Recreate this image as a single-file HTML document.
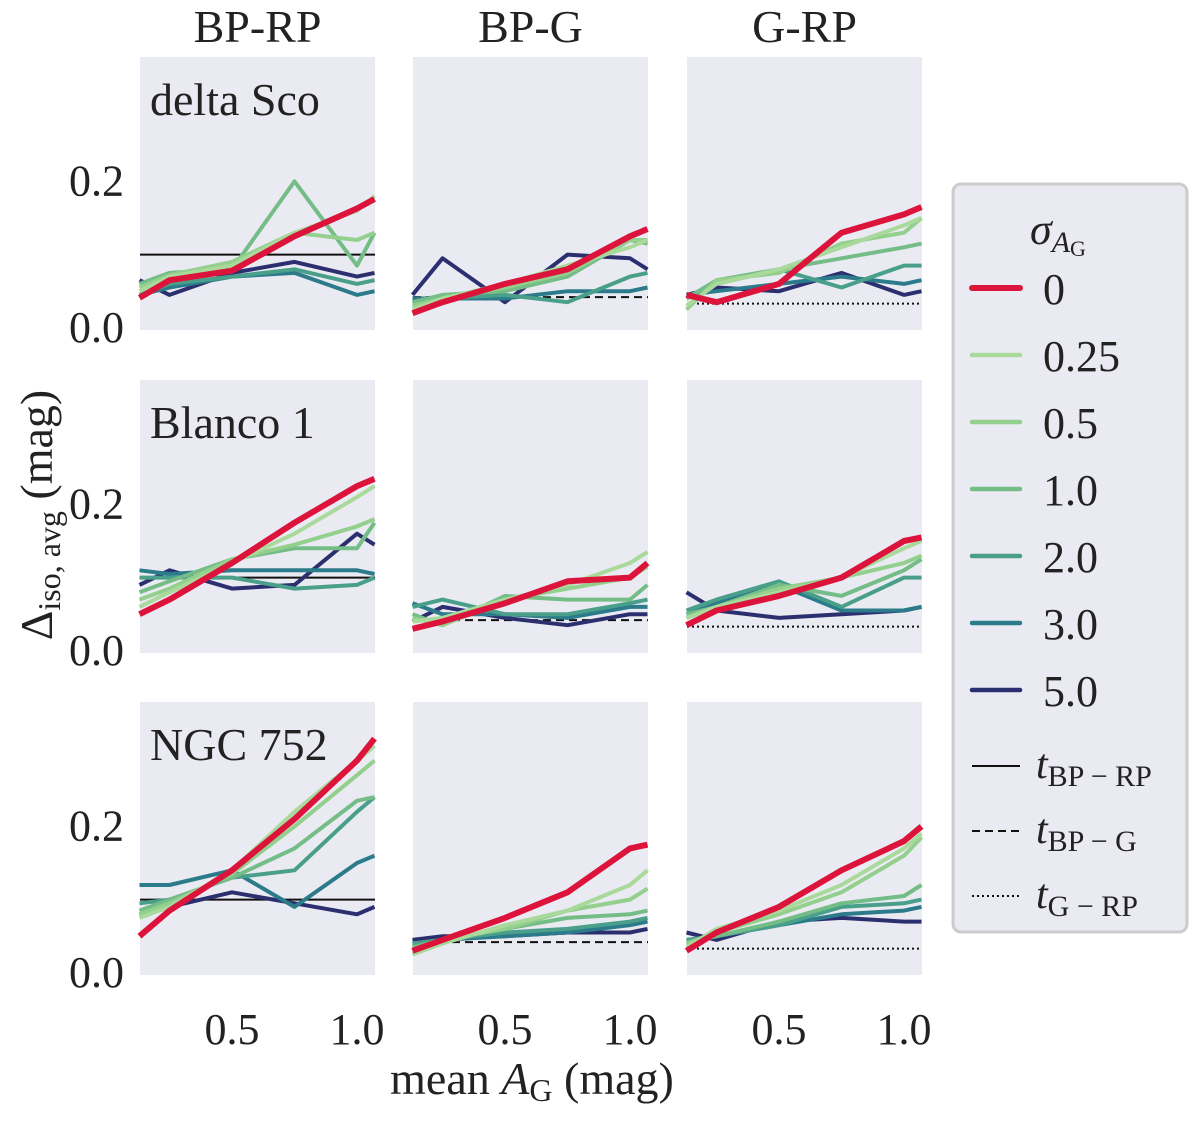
<!DOCTYPE html>
<html><head><meta charset="utf-8"><style>
body{margin:0;background:#fff;}
svg text{font-family:"Liberation Serif",serif;fill:#222;}
</style></head><body>
<svg id="chart" width="1200" height="1118" viewBox="0 0 1200 1118" xmlns="http://www.w3.org/2000/svg"></svg>
<script>
const xs = [0.13, 0.25, 0.5, 0.75, 1.0, 1.07];
const sigmas = ["0","0.25","0.5","1.0","2.0","3.0","5.0"];
const colors = ["#dc143c","#a9d99b","#93cf8d","#74bd87","#4a9f8a","#2c7b8b","#2b2f6f"];
const columns = ["BP-RP","BP-G","G-RP"];
const clusters = ["delta Sco","Blanco 1","NGC 752"];
const thresholds = [0.1, 0.042, 0.033];
const xTicks = [0.5, 1.0];
const yTicks = [0.0, 0.2];
const p00 = [[0.041,0.065,0.078,0.125,0.163,0.176],[0.05,0.07,0.085,0.13,0.16,0.18],[0.055,0.072,0.09,0.13,0.12,0.13],[0.06,0.075,0.08,0.2,0.085,0.13],[0.045,0.06,0.07,0.08,0.06,0.065],[0.045,0.055,0.07,0.075,0.045,0.05],[0.065,0.045,0.075,0.09,0.07,0.075]];
const p01 = [[0.02,0.035,0.06,0.08,0.125,0.135],[0.025,0.04,0.06,0.085,0.11,0.12],[0.03,0.04,0.055,0.075,0.12,0.12],[0.035,0.045,0.05,0.07,0.12,0.115],[0.035,0.04,0.045,0.035,0.07,0.075],[0.04,0.04,0.04,0.05,0.05,0.055],[0.045,0.095,0.035,0.1,0.095,0.08]];
const p02 = [[0.045,0.035,0.06,0.13,0.155,0.165],[0.03,0.06,0.08,0.11,0.14,0.15],[0.025,0.065,0.075,0.115,0.13,0.15],[0.04,0.065,0.08,0.095,0.11,0.115],[0.04,0.06,0.08,0.055,0.085,0.085],[0.045,0.05,0.06,0.07,0.06,0.065],[0.045,0.055,0.05,0.075,0.045,0.05]];
const p10 = [[0.05,0.07,0.12,0.175,0.225,0.235],[0.06,0.08,0.12,0.16,0.21,0.225],[0.07,0.085,0.125,0.145,0.17,0.18],[0.08,0.095,0.125,0.14,0.14,0.175],[0.1,0.1,0.1,0.085,0.09,0.1],[0.11,0.105,0.11,0.11,0.11,0.105],[0.09,0.11,0.085,0.09,0.16,0.145]];
const p11 = [[0.03,0.04,0.065,0.095,0.1,0.12],[0.04,0.045,0.07,0.09,0.12,0.135],[0.045,0.035,0.07,0.085,0.1,0.115],[0.05,0.035,0.075,0.07,0.07,0.09],[0.06,0.07,0.05,0.05,0.065,0.07],[0.065,0.05,0.05,0.045,0.06,0.06],[0.04,0.06,0.045,0.035,0.05,0.05]];
const p12 = [[0.035,0.055,0.075,0.1,0.15,0.155],[0.045,0.06,0.08,0.1,0.14,0.15],[0.045,0.06,0.085,0.1,0.12,0.13],[0.05,0.06,0.09,0.075,0.11,0.125],[0.055,0.07,0.095,0.06,0.1,0.1],[0.05,0.065,0.09,0.055,0.055,0.06],[0.08,0.055,0.045,0.05,0.055,0.06]];
const p20 = [[0.05,0.085,0.14,0.21,0.29,0.32],[0.075,0.09,0.14,0.22,0.29,0.31],[0.08,0.095,0.135,0.2,0.27,0.29],[0.085,0.1,0.13,0.17,0.235,0.24],[0.095,0.1,0.13,0.14,0.22,0.24],[0.12,0.12,0.14,0.09,0.15,0.16],[0.08,0.09,0.11,0.095,0.08,0.09]];
const p21 = [[0.03,0.045,0.075,0.11,0.17,0.175],[0.025,0.04,0.065,0.085,0.12,0.14],[0.03,0.045,0.06,0.085,0.1,0.115],[0.035,0.045,0.06,0.075,0.08,0.085],[0.04,0.045,0.055,0.06,0.07,0.075],[0.04,0.045,0.05,0.055,0.065,0.07],[0.045,0.05,0.05,0.055,0.055,0.06]];
const p22 = [[0.03,0.055,0.09,0.14,0.18,0.2],[0.035,0.06,0.085,0.12,0.17,0.19],[0.04,0.055,0.08,0.11,0.16,0.185],[0.04,0.05,0.07,0.095,0.105,0.12],[0.045,0.05,0.065,0.09,0.095,0.1],[0.04,0.05,0.065,0.08,0.085,0.09],[0.055,0.045,0.07,0.075,0.07,0.07]];
const panels = [[p00,p01,p02],[p10,p11,p12],[p20,p21,p22]];

const NS="http://www.w3.org/2000/svg";
const svg=document.getElementById('chart');
function mk(tag,attrs,parent){const e=document.createElementNS(NS,tag);for(const k in attrs)e.setAttribute(k,attrs[k]);(parent||svg).appendChild(e);return e;}
const colX=[140,413,687], rowY=[57,380,702], PW=235, PH=273;
const xmin=0.132, xmax=1.072, ymin=-0.003, ymax=0.37;
const sx=(c,v)=>colX[c]+(v-xmin)/(xmax-xmin)*PW;
const sy=(r,v)=>rowY[r]+PH-(v-ymin)/(ymax-ymin)*PH;
const dashes=["none","8,5","2,3"];

for(let c=0;c<3;c++){
  const t=mk('text',{x:colX[c]+PW/2,y:42,'text-anchor':'middle','font-size':46});
  t.textContent=columns[c];
  
  
}
for(let r=0;r<3;r++)for(let c=0;c<3;c++){
  const g=mk('g',{});
  
  
  mk('rect',{x:colX[c],y:rowY[r],width:PW,height:PH,fill:'#eaeaf2'},g);
  const th=mk('line',{x1:colX[c],x2:colX[c]+PW,y1:sy(r,thresholds[c]),y2:sy(r,thresholds[c]),stroke:'#111','stroke-width':2,'stroke-dasharray':dashes[c]},g);
  
  
  const data=panels[r][c];
  for(let s=data.length-1;s>=0;s--){
    const pts=data[s].map((v,i)=>sx(c,xs[i]).toFixed(1)+','+sy(r,v).toFixed(1)).join(' ');
    const pl=mk('polyline',{points:pts,fill:'none',stroke:colors[s],'stroke-width':s==0?6:4,'stroke-linejoin':'round'},g);
    
    
  }
  if(c==0){
    for(const v of yTicks){const t=mk('text',{x:124,y:sy(r,v)+14,'text-anchor':'end','font-size':44});t.textContent=v.toFixed(1);
      }
    const cl=mk('text',{x:150,y:rowY[r]+58,'font-size':46});cl.textContent=clusters[r];
    
  }
  if(r==2){
    for(const v of xTicks){const t=mk('text',{x:sx(c,v),y:1044,'text-anchor':'middle','font-size':44});t.textContent=v.toFixed(1);
      }
  }
}
const xl=mk('text',{x:532,y:1094,'text-anchor':'middle','font-size':46});
xl.innerHTML='mean <tspan font-style="italic">A</tspan><tspan font-size="32" dy="7">G</tspan><tspan dy="-7"> (mag)</tspan>';

const yl=mk('text',{transform:'translate(52,515) rotate(-90)','text-anchor':'middle','font-size':46});
yl.innerHTML='Δ<tspan font-size="32" dy="8">iso, avg</tspan><tspan dy="-8"> (mag)</tspan>';


// legend
const lg=mk('g',{});


mk('rect',{x:953,y:184,width:234,height:748,rx:8,fill:'#eaeaf2',stroke:'#cccccc','stroke-width':3},lg);
const lt=mk('text',{x:1030,y:244,'font-size':44},lg);
lt.innerHTML='<tspan font-style="italic">σ</tspan><tspan font-size="30" dy="8" font-style="italic">A</tspan><tspan font-size="22" dy="4">G</tspan>';
for(let s=0;s<sigmas.length;s++){
  const y=288+s*67;
  const e=mk('g',{},lg);
  
  
  mk('line',{x1:972,x2:1020,y1:y,y2:y,stroke:colors[s],'stroke-width':s==0?6:4.5,'stroke-linecap':'round'},e);
  const t=mk('text',{x:1043,y:y+16,'font-size':44},e);t.textContent=sigmas[s];
}
const tl=['BP − RP','BP − G','G − RP'];
for(let i=0;i<3;i++){
  const y=766+i*65;
  const e=mk('g',{},lg);
  
  
  mk('line',{x1:972,x2:1020,y1:y,y2:y,stroke:'#111','stroke-width':2,'stroke-dasharray':dashes[i]},e);
  const t=mk('text',{x:1036,y:y+12,'font-size':42},e);
  t.innerHTML='<tspan font-style="italic">t</tspan><tspan font-size="30" dy="8">'+tl[i]+'</tspan>';
}
</script>
</body></html>
